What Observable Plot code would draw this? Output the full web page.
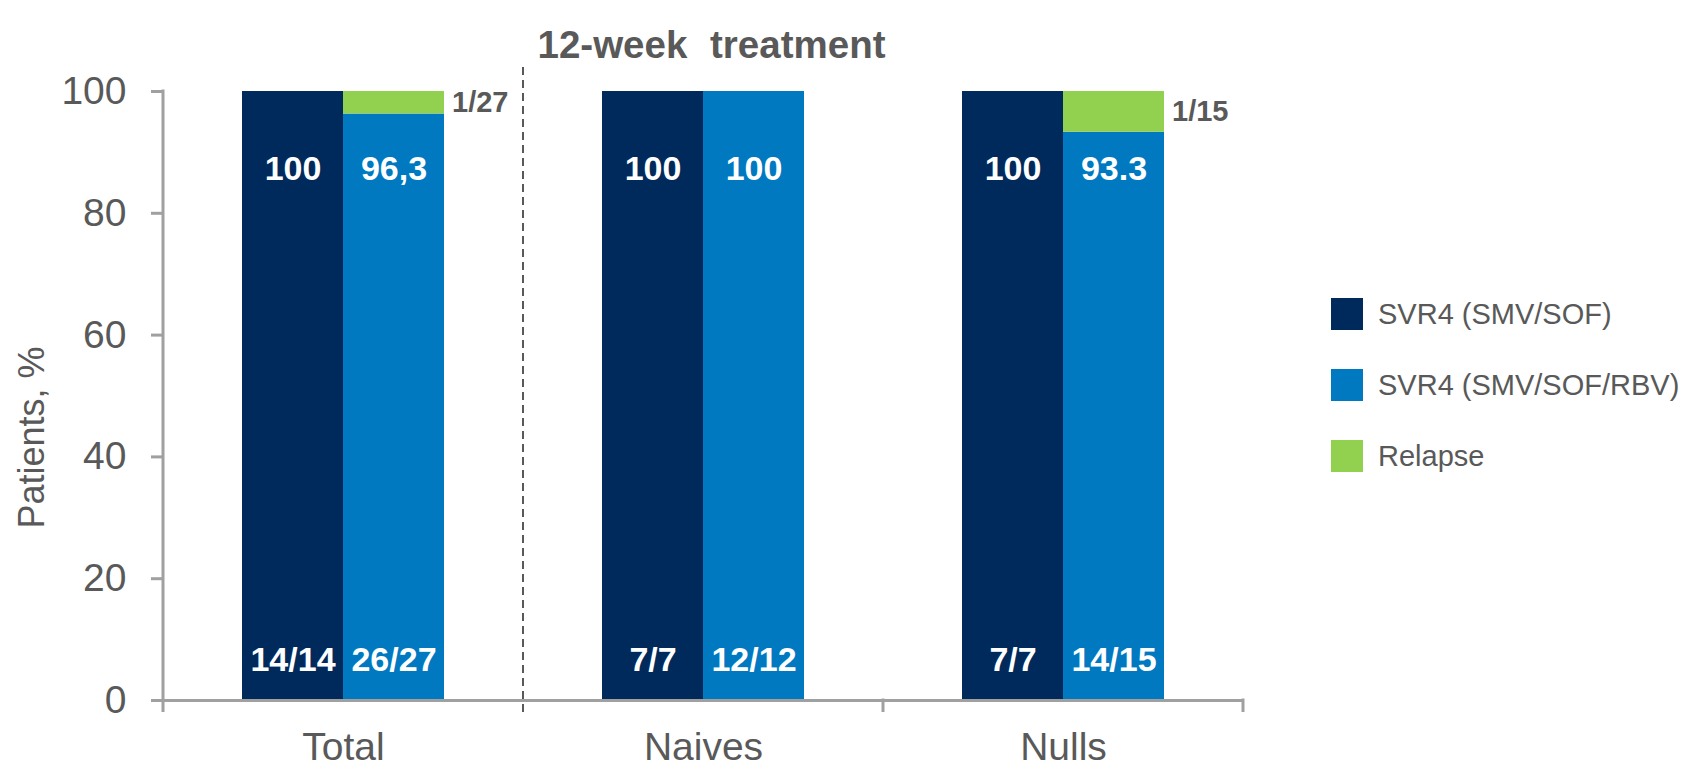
<!DOCTYPE html>
<html><head><meta charset="utf-8">
<script src="https://cdn.jsdelivr.net/npm/d3@7"></script>
<script src="https://cdn.jsdelivr.net/npm/@observablehq/plot@0.6"></script>
<style>
html,body{margin:0;padding:0;background:#fff;}
#wrap{position:relative;width:1684px;height:765px;font-family:"Liberation Sans",Arial,sans-serif;}
#legend{position:absolute;left:1331px;top:298px;}
.item{display:flex;align-items:center;height:32px;margin-bottom:39px;}
.sw{width:32px;height:32px;margin-right:15px;flex:none;}
.lab{font-size:29px;color:#595959;white-space:nowrap;line-height:32px;}
</style></head><body><div id="wrap"></div>
<script>
const groups = ["Total", "Naives", "Nulls"];
const seriesNames = ["SVR4 (SMV/SOF)", "SVR4 (SMV/SOF/RBV)"];
const relapseName = "Relapse";
const svrSof = [100, 100, 100];
const svrSofRbv = [96.3, 100, 93.3];
const relapse = [3.7, 0, 6.7];
const sofValueLabels = ["100", "100", "100"];
const rbvValueLabels = ["96,3", "100", "93.3"];
const sofCounts = ["14/14", "7/7", "7/7"];
const rbvCounts = ["26/27", "12/12", "14/15"];
const relapseCounts = ["1/27", "", "1/15"];
const yTicks = [0, 20, 40, 60, 80, 100];
const colors = ["#002a5c", "#0079c1", "#92d050"];
const title = "12-week treatment";
const yLabel = "Patients, %";

const textGray = "#595959";
const axisGray = "#a0a0a0";
const VALUE_Y = 87.3;
const COUNT_Y = 6.6;
const YLABEL_Y = 43.2;

const segments = groups.flatMap((g, i) => [
  {group: g, series: seriesNames[0], kind: seriesNames[0], value: svrSof[i]},
  {group: g, series: seriesNames[1], kind: seriesNames[1], value: svrSofRbv[i]},
  {group: g, series: seriesNames[1], kind: relapseName, value: relapse[i]}
]).filter(d => d.value > 0);

const labels = groups.flatMap((g, i) => [
  {group: g, series: seriesNames[0], value: sofValueLabels[i], count: sofCounts[i]},
  {group: g, series: seriesNames[1], value: rbvValueLabels[i], count: rbvCounts[i]}
]);

const relapseRows = groups.map((g, i) => ({
  group: g, series: seriesNames[1], text: relapseCounts[i], mid: svrSofRbv[i] + relapse[i] / 2
})).filter(d => d.text);

const chart = Plot.plot({
  width: 1684,
  height: 765,
  marginLeft: 162,
  marginRight: 441,
  marginTop: 91,
  marginBottom: 65,
  style: {fontFamily: "'Liberation Sans', Arial, sans-serif", background: "white", overflow: "visible"},
  fx: {domain: groups, padding: 0, label: null},
  x: {domain: seriesNames, paddingInner: 0, paddingOuter: 0.768, axis: null},
  y: {domain: [0, 100], axis: null},
  color: {domain: [...seriesNames, relapseName], range: colors},
  marks: [
    Plot.barY(segments, {fx: "group", x: "series", y: "value", fill: "kind"}),
    Plot.ruleY([0], {stroke: axisGray, strokeWidth: 3}),
    Plot.axisY({ticks: yTicks, tickSize: 12, tickPadding: 25, fontSize: 39, stroke: axisGray, strokeWidth: 3, fill: textGray, label: null, tickFormat: d => String(d)}),
    Plot.axisFx({anchor: "bottom", tickSize: 0, tickPadding: 32, fontSize: 39, fill: textGray, label: null}),
    Plot.text(labels, {fx: "group", x: "series", y: () => VALUE_Y, text: "value", fill: "white", fontWeight: "bold", fontSize: 34}),
    Plot.text(labels, {fx: "group", x: "series", y: () => COUNT_Y, text: "count", fill: "white", fontWeight: "bold", fontSize: 34}),
    Plot.text(relapseRows, {fx: "group", x: "series", y: "mid", text: "text", textAnchor: "start", dx: 58, fill: textGray, fontWeight: "bold", fontSize: 29}),
    Plot.text([title], {fx: () => groups[1], frameAnchor: "top", dy: -61, dx: 8, fontSize: 38.5, fontWeight: "bold", fill: textGray}),
    Plot.text([yLabel], {fx: () => groups[0], frameAnchor: "left", y: () => YLABEL_Y, textAnchor: "middle", rotate: -90, dx: -131, fontSize: 36, fill: textGray})
  ]
});

document.getElementById("wrap").appendChild(chart);

// decorations derived from the plot's own scales
const fxs = chart.scale("fx");
const ys = chart.scale("y");
const y0 = ys.apply(0);
const yTop = ys.apply(100);
const bw = fxs.bandwidth != null ? fxs.bandwidth : (fxs.range[1] - fxs.range[0]) / groups.length;
const svg = d3.select(chart);
svg.selectAll('g[aria-label="y-axis tick"] path, g[aria-label="y-axis tick"] line')
  .attr("stroke", axisGray).attr("stroke-width", 3);
const deco = svg.append("g");
const xLeft = fxs.apply(groups[0]);
deco.append("line")
  .attr("x1", xLeft).attr("x2", xLeft).attr("y1", yTop - 1.5).attr("y2", y0 + 12)
  .attr("stroke", axisGray).attr("stroke-width", 3);
deco.append("line")
  .attr("x1", fxs.apply(groups[1])).attr("x2", fxs.apply(groups[1]))
  .attr("y1", yTop - 24).attr("y2", y0 + 12)
  .attr("stroke", textGray).attr("stroke-width", 2).attr("stroke-dasharray", "8,5");
[fxs.apply(groups[2]), fxs.apply(groups[2]) + bw].forEach(x => {
  deco.append("line").attr("x1", x).attr("x2", x).attr("y1", y0 - 1.5).attr("y2", y0 + 12)
    .attr("stroke", axisGray).attr("stroke-width", 3);
});
svg.selectAll("text").filter(function() { return this.textContent === title; })
  .style("word-spacing", "12px");

// legend
const legend = d3.select("#wrap").append("div").attr("id", "legend");
[...seriesNames, relapseName].forEach((name, i) => {
  const item = legend.append("div").attr("class", "item");
  item.append("div").attr("class", "sw").style("background", colors[i]);
  item.append("div").attr("class", "lab").text(name);
});
</script></body></html>
